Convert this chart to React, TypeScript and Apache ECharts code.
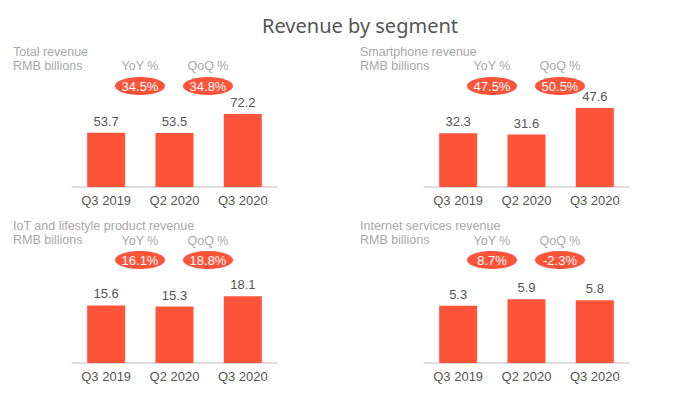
import React, { useEffect, useRef } from "react";
import * as echarts from "echarts";

const chartTitle = "Revenue by segment";
const categories = ["Q3 2019", "Q2 2020", "Q3 2020"];
const segmentNames = [
  "Total revenue",
  "Smartphone revenue",
  "IoT and lifestyle product revenue",
  "Internet services revenue",
];
const unitLabel = "RMB billions";
const yoyLabel = "YoY %";
const qoqLabel = "QoQ %";
const totalRevenue = [53.7, 53.5, 72.2];
const smartphoneRevenue = [32.3, 31.6, 47.6];
const iotRevenue = [15.6, 15.3, 18.1];
const internetRevenue = [5.3, 5.9, 5.8];
const yoyGrowth = ["34.5%", "47.5%", "16.1%", "8.7%"];
const qoqGrowth = ["34.8%", "50.5%", "18.8%", "-2.3%"];

const seriesValues = [totalRevenue, smartphoneRevenue, iotRevenue, internetRevenue];

const BAR = "#ff533a";
const TITLE_FONT = "'Noto Sans', 'Open Sans', sans-serif";
const FONT = "'Liberation Sans', Arial, sans-serif";

export default function App() {
  const ref = useRef<HTMLDivElement>(null);
  useEffect(() => {
    if (!ref.current) return;
    const chart = echarts.init(ref.current, undefined, { renderer: "svg" });

    const gridLeft = [72, 424, 72, 424];
    const baseline = [187, 187, 363, 363];
    const gridH = 87;
    const axisMax = [86, 52.4, 23.6, 8.05];
    const textX = [13, 360, 13, 360];
    const textY = [0, 0, 174, 174];
    const yoyX = [140, 492, 140, 492];
    const qoqX = [208, 560, 208, 560];
    const gray = "#a8a8a8";

    const txt = (x: number, y: number, text: string, fill: string, size: number, align: string) => ({
      type: "text",
      x,
      y,
      style: { text, fill, font: `${size}px ${FONT}`, textAlign: align, textVerticalAlign: "middle", lineHeight: size },
    });

    const graphic: any[] = [
      {
        type: "text",
        x: 360,
        y: 25,
        style: {
          text: chartTitle,
          fill: "#555555",
          font: `20px ${TITLE_FONT}`,
          textAlign: "center",
          textVerticalAlign: "middle",
        },
      },
    ];
    for (let i = 0; i < 4; i++) {
      const dy = i >= 2 ? 1 : 0;
      graphic.push(
        txt(textX[i], 52 + textY[i], segmentNames[i], gray, 12.5, "left"),
        txt(textX[i], 66 + textY[i], unitLabel, gray, 12.5, "left"),
        txt(yoyX[i], 66 + textY[i] + dy, yoyLabel, gray, 12.5, "center"),
        txt(qoqX[i], 66 + textY[i] + dy, qoqLabel, gray, 12.5, "center"),
        {
          type: "ellipse",
          shape: { cx: yoyX[i], cy: 86 + textY[i], rx: 25, ry: 9 },
          style: { fill: BAR },
        },
        {
          type: "ellipse",
          shape: { cx: qoqX[i], cy: 86 + textY[i], rx: 25, ry: 9 },
          style: { fill: BAR },
        },
        txt(yoyX[i], 86 + textY[i], yoyGrowth[i], "#ffffff", 13, "center"),
        txt(qoqX[i], 86 + textY[i], qoqGrowth[i], "#ffffff", 13, "center")
      );
    }

    const option: any = {
      animation: false,
      backgroundColor: "#ffffff",
      textStyle: { fontFamily: FONT },
      grid: gridLeft.map((l, i) => ({
        left: l,
        top: baseline[i] - gridH,
        width: 205,
        height: gridH,
        containLabel: false,
      })),
      xAxis: gridLeft.map((_, i) => ({
        type: "category",
        gridIndex: i,
        data: categories,
        axisLine: { lineStyle: { color: "#d4d4d4", width: 1.5 } },
        axisTick: { show: false },
        axisLabel: { color: "#555555", fontSize: 13, margin: 7, fontFamily: FONT },
      })),
      yAxis: gridLeft.map((_, i) => ({
        type: "value",
        gridIndex: i,
        min: 0,
        max: axisMax[i],
        show: false,
        splitLine: { show: false },
      })),
      series: seriesValues.map((vals, i) => ({
        type: "bar",
        xAxisIndex: i,
        yAxisIndex: i,
        data: vals,
        barWidth: 38,
        itemStyle: { color: BAR },
        label: {
          show: true,
          position: "top",
          distance: 5,
          color: "#555555",
          fontSize: 13,
          fontFamily: FONT,
          formatter: (p: any) => p.value.toFixed(1),
        },
      })),
      graphic,
    };
    chart.setOption(option);
    return () => chart.dispose();
  }, []);
  return (
    <div
      ref={ref}
      style={{ position: "fixed", left: 0, top: 0, width: 692, height: 397 }}
    />
  );
}
